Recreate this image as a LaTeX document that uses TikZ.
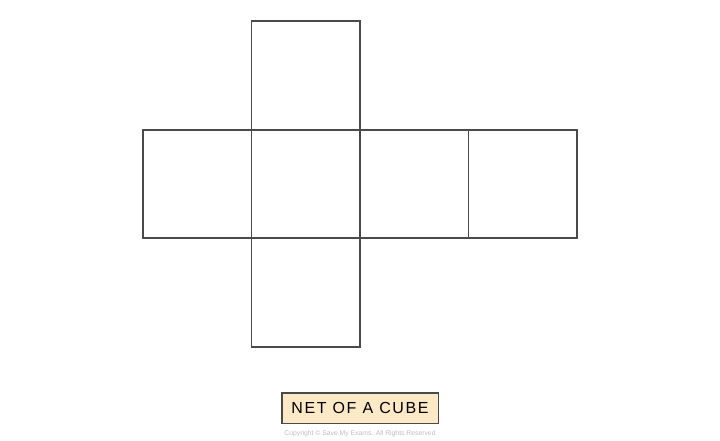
\documentclass[tikz,border=0pt]{standalone}
\usepackage{fontspec}
\setmainfont{Liberation Sans}
\usetikzlibrary{positioning}
\definecolor{edgegray}{HTML}{4A4A4A}
\definecolor{tagfill}{HTML}{FDE9C6}
\definecolor{notegray}{HTML}{BDBDBD}
\tikzset{
	face/.style = {draw=edgegray, line width=1.6pt, minimum size=108.5pt, inner sep=0pt},
	tagbox/.style = {draw=edgegray, line width=1.5pt, fill=tagfill, minimum width=156.5pt, minimum height=30.5pt, inner sep=0pt, font=\fontsize{16}{19}\selectfont\addfontfeature{LetterSpace=10}},
	note/.style = {text=notegray, font=\fontsize{6.8}{8}\selectfont, inner sep=0pt}
}
\begin{document}
\begin{tikzpicture}[x=1pt,y=1pt]
	\useasboundingbox (0,0) rectangle (720,441);
	\matrix (net) at (360,257) [column sep={108.5pt,between origins}, row sep={108.5pt,between origins}]
	{
		& \node[face] (top) {}; & & \\
		\node[face] (left) {}; 
			& \node[face] (front) {}; 
			& \node[face] (right) {}; 
			& \node[face] (back) {}; \\
		& \node[face] (bottom) {}; & & \\
	};
	\node[tagbox, below=41pt of net] (title) {NET OF A CUBE};
	\node[note, below=6pt of title] (copy) {Copyright © Save My Exams. All Rights Reserved};
\end{tikzpicture}
\end{document}
